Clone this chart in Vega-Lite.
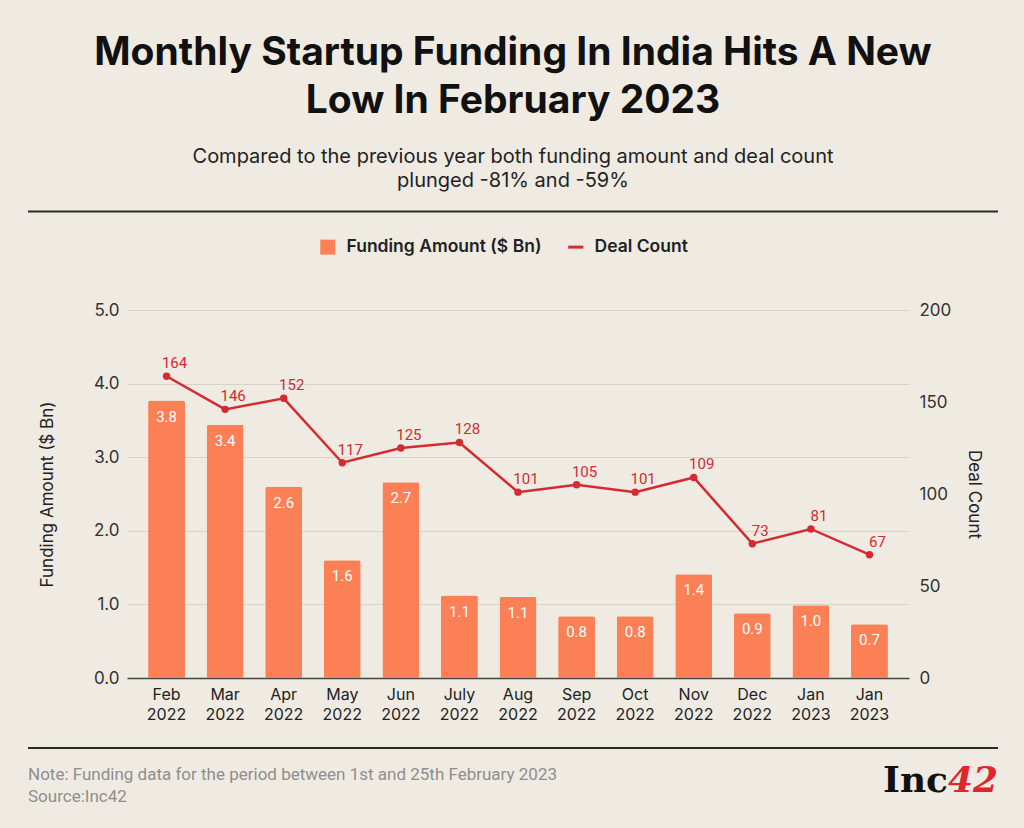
{
  "$schema": "https://vega.github.io/schema/vega-lite/v6.json",
  "description": "Monthly startup funding in India (bars) and deal count (line), Feb 2022 to Feb 2023.",
  "background": "#efebe2",
  "padding": {"left": 27, "right": 27, "top": 33, "bottom": 20},
  "title": {
    "text": ["Monthly Startup Funding In India Hits A New", "Low In February 2023"],
    "subtitle": ["Compared to the previous year both funding amount and deal count", "plunged -81% and -59%"],
    "anchor": "middle",
    "font": "Inter",
    "fontSize": 39,
    "fontWeight": 700,
    "color": "#111111",
    "lineHeight": 48,
    "subtitleFont": "Inter",
    "subtitleFontSize": 20,
    "subtitleColor": "#222222",
    "subtitleLineHeight": 24,
    "subtitlePadding": 26,
    "offset": 20
  },
  "spacing": 25,
  "resolve": {"scale": {"color": "independent"}},
  "datasets": {
    "funding": [
      {"month": "Feb 2022", "funding": 3.77, "deals": 164},
      {"month": "Mar 2022", "funding": 3.44, "deals": 146},
      {"month": "Apr 2022", "funding": 2.6, "deals": 152},
      {"month": "May 2022", "funding": 1.6, "deals": 117},
      {"month": "Jun 2022", "funding": 2.66, "deals": 125},
      {"month": "July 2022", "funding": 1.12, "deals": 128},
      {"month": "Aug 2022", "funding": 1.1, "deals": 101},
      {"month": "Sep 2022", "funding": 0.84, "deals": 105},
      {"month": "Oct 2022", "funding": 0.84, "deals": 101},
      {"month": "Nov 2022", "funding": 1.41, "deals": 109},
      {"month": "Dec 2022", "funding": 0.88, "deals": 73},
      {"month": "Jan 2023", "funding": 0.99, "deals": 81},
      {"month": "Jan 2023 ", "funding": 0.73, "deals": 67}
    ]
  },
  "vconcat": [
    {
      "width": 871,
      "height": 1,
      "data": {"values": [{"from": 0, "to": 1}]},
      "mark": {"type": "rule", "color": "#2b2b26", "strokeWidth": 2},
      "encoding": {
        "x": {"field": "from", "type": "quantitative", "scale": {"domain": [0, 1], "range": [-99, 871]}, "axis": null},
        "x2": {"field": "to"}
      }
    },
    {
      "width": 782,
      "height": 368,
      "data": {"name": "funding"},
      "encoding": {
        "x": {
          "field": "month",
          "type": "nominal",
          "sort": null,
          "scale": {"paddingInner": 0.37, "paddingOuter": 0.36},
          "axis": {
            "title": null,
            "labelAngle": 0,
            "labelExpr": "split(trim(datum.label), ' ')",
            "labelFont": "Inter",
            "labelFontSize": 16,
            "labelColor": "#222222",
            "labelLineHeight": 20,
            "labelPadding": 8,
            "ticks": false,
            "domainColor": "#444444",
            "domainWidth": 1.5
          }
        }
      },
      "layer": [
        {
          "encoding": {
            "y": {
              "field": "funding",
              "type": "quantitative",
              "scale": {"domain": [0, 5]},
              "axis": {
                "title": "Funding Amount ($ Bn)",
                "values": [0, 1, 2, 3, 4, 5],
                "format": ".1f",
                "titlePadding": 37
              }
            }
          },
          "layer": [
            {
              "mark": {"type": "bar", "cornerRadiusTopLeft": 2, "cornerRadiusTopRight": 2},
              "encoding": {
                "color": {
                  "datum": "Funding Amount ($ Bn)",
                  "type": "nominal",
                  "scale": {"domain": ["Funding Amount ($ Bn)", "Deal Count"], "range": ["#fb8056", "#d42a31"]},
                  "legend": {
                    "title": null,
                    "orient": "none",
                    "legendX": 192,
                    "legendY": -72,
                    "direction": "horizontal",
                    "labelFont": "Inter",
                    "labelFontSize": 17.5,
                    "labelFontWeight": 600,
                    "labelColor": "#222222",
                    "labelLimit": 0,
                    "labelOffset": 10,
                    "symbolSize": 225,
                    "columnPadding": 20,
                    "encode": {
                      "symbols": {
                        "update": {
                          "shape": {"signal": "datum.value === 'Deal Count' ? 'stroke' : 'square'"},
                          "fill": {"scale": "color", "field": "value"},
                          "stroke": {"scale": "color", "field": "value"},
                          "strokeWidth": {"signal": "datum.value === 'Deal Count' ? 3 : 0"}
                        }
                      }
                    }
                  }
                }
              }
            },
            {
              "mark": {"type": "text", "color": "#ffffff", "font": "Roboto", "fontSize": 15, "dy": 16},
              "encoding": {"text": {"field": "funding", "type": "quantitative", "format": ".1f"}}
            }
          ]
        },
        {
          "encoding": {
            "y": {
              "field": "deals",
              "type": "quantitative",
              "scale": {"domain": [0, 200]},
              "axis": {
                "orient": "right",
                "title": "Deal Count",
                "values": [0, 50, 100, 150, 200],
                "grid": false,
                "labelPadding": 10,
                "titlePadding": 14
              }
            }
          },
          "layer": [
            {
              "mark": {"type": "line", "strokeWidth": 2.5, "point": {"filled": true, "size": 55}},
              "encoding": {"color": {"datum": "Deal Count", "type": "nominal"}}
            },
            {
              "mark": {"type": "text", "color": "#d42a31", "font": "Roboto", "fontSize": 15, "dx": 8, "dy": -13},
              "encoding": {"text": {"field": "deals", "type": "quantitative"}}
            }
          ]
        }
      ],
      "resolve": {"scale": {"y": "independent"}}
    },
    {
      "width": 871,
      "height": 60,
      "data": {
        "values": [
          {
            "from": 0,
            "to": 1,
            "note": ["Note: Funding data for the period between 1st and 25th February 2023", "Source:Inc42"],
            "brand": "Inc",
            "num": "42"
          }
        ]
      },
      "encoding": {
        "x": {"field": "from", "type": "quantitative", "scale": {"domain": [0, 1], "range": [-99, 871]}, "axis": null},
        "y": {"datum": 1, "type": "quantitative", "scale": {"domain": [0, 1]}, "axis": null}
      },
      "layer": [
        {
          "mark": {"type": "rule", "color": "#2b2b26", "strokeWidth": 2},
          "encoding": {"x2": {"field": "to"}}
        },
        {
          "mark": {"type": "text", "align": "left", "baseline": "top", "font": "Roboto", "fontSize": 17, "color": "#8e8e8e", "lineHeight": 22},
          "encoding": {
            "y": {"datum": 0.69, "type": "quantitative"},
            "text": {"field": "note", "type": "nominal"}
          }
        },
        {
          "mark": {"type": "text", "align": "right", "baseline": "middle", "font": "DejaVu Serif", "fontWeight": "bold", "fontSize": 36, "color": "#111111", "dx": -50},
          "encoding": {
            "x": {"field": "to", "type": "quantitative"},
            "y": {"datum": 0.45, "type": "quantitative"},
            "text": {"field": "brand", "type": "nominal"}
          }
        },
        {
          "mark": {"type": "text", "align": "right", "baseline": "middle", "font": "DejaVu Serif", "fontWeight": "bold", "fontStyle": "italic", "fontSize": 36, "color": "#e0262d"},
          "encoding": {
            "x": {"field": "to", "type": "quantitative"},
            "y": {"datum": 0.45, "type": "quantitative"},
            "text": {"field": "num", "type": "nominal"}
          }
        }
      ]
    }
  ],
  "config": {
    "view": {"stroke": null},
    "font": "Inter",
    "axisY": {
      "labelFont": "Inter",
      "labelFontSize": 17,
      "labelColor": "#333333",
      "labelPadding": 8,
      "titleFont": "Inter",
      "titleFontSize": 17,
      "titleFontWeight": "normal",
      "titleColor": "#222222",
      "ticks": false,
      "domain": false,
      "gridColor": "#d6d2c8",
      "gridWidth": 1
    }
  }
}
